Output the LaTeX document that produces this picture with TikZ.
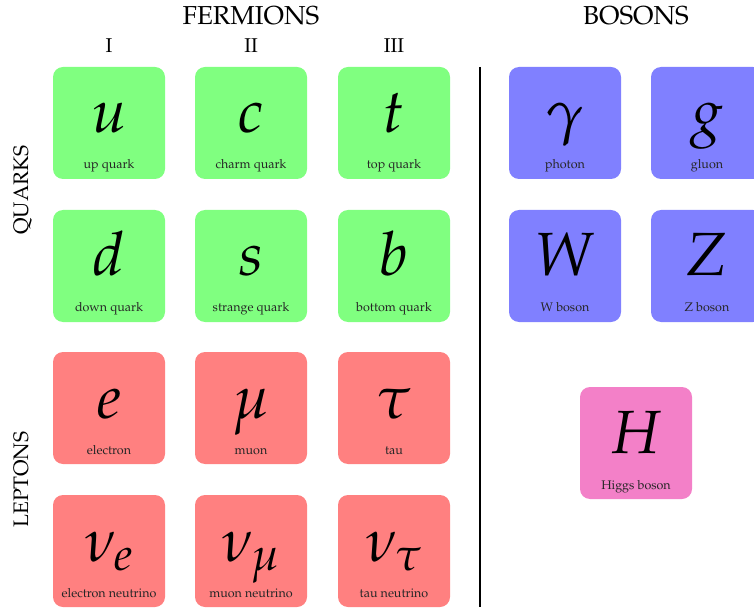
\documentclass[tikz,border=0pt]{standalone}
\usepackage[T1]{fontenc}
\usepackage{mathpazo}
\definecolor{qgreen}{RGB}{128,255,128}
\definecolor{lred}{RGB}{255,128,128}
\definecolor{bblue}{RGB}{128,128,255}
\definecolor{hpink}{RGB}{243,128,200}
\tikzset{
  pbox/.style={draw=none, rounded corners=10pt, minimum width=112pt, minimum height=112pt, inner sep=0pt},
  sym/.style={anchor=base, inner sep=0pt, font=\fontsize{61}{61}\selectfont},
  capt/.style={anchor=base, inner sep=0pt, font=\fontsize{12.5}{14}\selectfont, text=black!85},
  head/.style={anchor=base, inner sep=0pt, font=\fontsize{26}{30}\selectfont},
  gen/.style={anchor=base, inner sep=0pt, font=\fontsize{20}{24}\selectfont},
  side/.style={anchor=base, inner sep=0pt, rotate=90, font=\fontsize{21}{24}\selectfont}
}
\newcommand\particle[6]{%
  \node[pbox, fill=#4] (#1) at (#2, #3+56) {};
  \node[sym] (#1-sym) at (#2, #3+66) {$#5$};
  \node[capt] (#1-cap) at (#2, #3+102) {#6};
}
\begin{document}
\begin{tikzpicture}[x=1pt, y=-1pt]
\useasboundingbox (0,0) rectangle (754,609);
% headings
\node[head] (fermions) at (251,25) {FERMIONS};
\node[head] (bosons) at (636,25) {BOSONS};
\node[gen] (g1) at (109,53) {I};
\node[gen] (g2) at (251,53) {II};
\node[gen] (g3) at (394,53) {III};
\node[side] (quarks) at (28,190) {QUARKS};
\node[side] (leptons) at (28,479.5) {LEPTONS};
% quarks
\particle{u}{109}{67}{qgreen}{u}{up quark}
\particle{c}{251}{67}{qgreen}{c}{charm quark}
\particle{t}{394}{67}{qgreen}{t}{top quark}
\particle{d}{109}{210}{qgreen}{d}{down quark}
\particle{s}{251}{210}{qgreen}{s}{strange quark}
\particle{b}{394}{210}{qgreen}{b}{bottom quark}
% leptons
\particle{e}{109}{352}{lred}{e}{electron}
\particle{mu}{251}{352}{lred}{\mu}{muon}
\particle{tau}{394}{352}{lred}{\tau}{tau}
\particle{ve}{109}{495}{lred}{\nu_e}{electron neutrino}
\particle{vmu}{251}{495}{lred}{\nu_\mu}{muon neutrino}
\particle{vtau}{394}{495}{lred}{\nu_\tau}{tau neutrino}
% bosons
\particle{gamma}{565}{67}{bblue}{\gamma}{photon}
\particle{g}{707}{67}{bblue}{g}{gluon}
\particle{W}{565}{210}{bblue}{W}{W boson}
\particle{Z}{707}{210}{bblue}{Z}{Z boson}
\particle{H}{636}{387}{hpink}{H}{Higgs boson}
% divider
\coordinate (divtop) at (480,67);
\coordinate (divbot) at (480,607);
\draw[line width=1.3pt] (divtop) -- (divbot);
\end{tikzpicture}
\end{document}
